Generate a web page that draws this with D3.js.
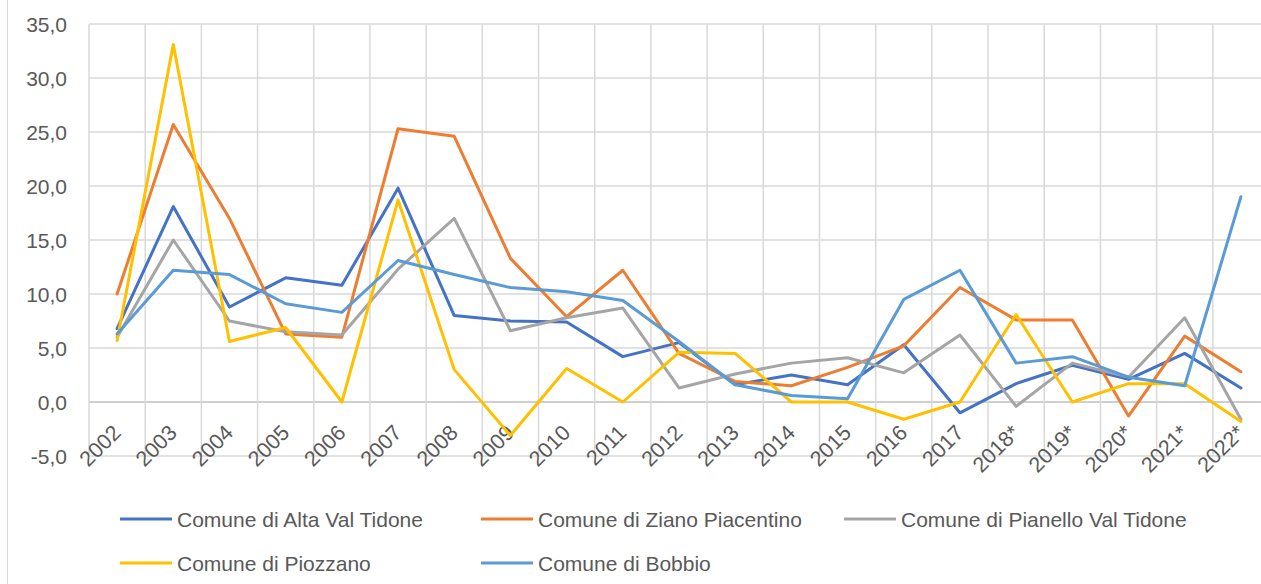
<!DOCTYPE html>
<html lang="en">
<head>
    <meta charset="UTF-8">
    <title>Comuni</title>
    <script src="https://d3js.org/d3.v7.min.js"></script>
    <style>
        body { margin: 0; background: #fff; }
        svg text { font-family: "Liberation Sans", Arial, sans-serif; fill: #595959; }
    </style>
</head>
<body>
    <svg id="chart"></svg>

    <script>
        // Categories (years)
        const years = ["2002", "2003", "2004", "2005", "2006", "2007", "2008", "2009", "2010", "2011",
            "2012", "2013", "2014", "2015", "2016", "2017", "2018*", "2019*", "2020*", "2021*", "2022*"];

        // Series names
        const names = ["Comune di Alta Val Tidone", "Comune di Ziano Piacentino", "Comune di Pianello Val Tidone",
            "Comune di Piozzano", "Comune di Bobbio"];

        // Values
        const altaValTidone = [6.8, 18.1, 8.8, 11.5, 10.8, 19.8, 8.0, 7.5, 7.4, 4.2, 5.5, 1.6, 2.5, 1.6, 5.3, -1.0, 1.7, 3.4, 2.1, 4.5, 1.3];
        const zianoPiacentino = [10.0, 25.7, 17.0, 6.3, 6.0, 25.3, 24.6, 13.3, 7.9, 12.2, 4.5, 1.9, 1.5, 3.2, 5.2, 10.6, 7.6, 7.6, -1.3, 6.1, 2.8];
        const pianelloValTidone = [6.0, 15.0, 7.5, 6.5, 6.2, 12.3, 17.0, 6.6, 7.8, 8.7, 1.3, 2.6, 3.6, 4.1, 2.7, 6.2, -0.4, 3.6, 2.3, 7.8, -1.6];
        const piozzano = [5.7, 33.1, 5.6, 6.9, 0.0, 18.7, 3.0, -3.1, 3.1, 0.0, 4.6, 4.5, 0.0, 0.0, -1.6, 0.0, 8.1, 0.0, 1.7, 1.7, -1.8];
        const bobbio = [6.3, 12.2, 11.8, 9.1, 8.3, 13.1, 11.8, 10.6, 10.2, 9.4, 5.6, 1.6, 0.6, 0.3, 9.5, 12.2, 3.6, 4.2, 2.3, 1.5, 19.0];

        const yTicks = [-5, 0, 5, 10, 15, 20, 25, 30, 35];
        const colors = ["#4472C4", "#ED7D31", "#A5A5A5", "#FFC000", "#5B9BD5"];

        const series = [altaValTidone, zianoPiacentino, pianelloValTidone, piozzano, bobbio]
            .map((v, i) => ({ name: names[i], values: v, color: colors[i] }));

        const width = 1261;
        const height = 584;

        const svg = d3.select("#chart")
            .attr("width", width)
            .attr("height", height);

        // chart area border on the left
        svg.append("line")
            .attr("x1", 7.5).attr("x2", 7.5)
            .attr("y1", 0).attr("y2", height)
            .attr("stroke", "#d9d9d9").attr("stroke-width", 1);

        const x = d3.scaleBand()
            .domain(years)
            .range([89, 1269]);

        const y = d3.scaleLinear()
            .domain([-5, 35])
            .range([456, 24]);

        // horizontal gridlines
        svg.append("g")
            .selectAll("line")
            .data(yTicks)
            .enter()
            .append("line")
            .attr("x1", 89).attr("x2", 1269)
            .attr("y1", d => y(d)).attr("y2", d => y(d))
            .attr("stroke", d => d === 0 ? "#bfbfbf" : "#d9d9d9")
            .attr("stroke-width", 1.5);

        // vertical gridlines at category edges
        svg.append("g")
            .selectAll("line")
            .data(years)
            .enter()
            .append("line")
            .attr("x1", d => x(d)).attr("x2", d => x(d))
            .attr("y1", y(35)).attr("y2", y(-5))
            .attr("stroke", "#d9d9d9")
            .attr("stroke-width", 1.5);

        // y tick labels (comma decimal, plain hyphen)
        svg.append("g")
            .selectAll("text")
            .data(yTicks)
            .enter()
            .append("text")
            .attr("x", 67)
            .attr("y", d => y(d))
            .attr("dy", "0.36em")
            .attr("text-anchor", "end")
            .style("font-size", "21px")
            .text(d => d3.format(".1f")(d).replace(".", ",").replace("\u2212", "-"));

        // x tick labels, rotated
        svg.append("g")
            .selectAll("text")
            .data(years)
            .enter()
            .append("text")
            .attr("transform", d => `translate(${x(d) + x.bandwidth() / 2 + 5},${y(0) + 32}) rotate(-45)`)
            .attr("text-anchor", "end")
            .style("font-size", "21.5px")
            .text(d => d);

        // lines
        const line = d3.line()
            .x((d, i) => x(years[i]) + x.bandwidth() / 2)
            .y(d => y(d));

        svg.append("g")
            .selectAll("path")
            .data(series)
            .enter()
            .append("path")
            .attr("d", d => line(d.values))
            .attr("fill", "none")
            .attr("stroke", d => d.color)
            .attr("stroke-width", 3)
            .attr("stroke-linejoin", "round")
            .attr("stroke-linecap", "round");

        // legend
        const legendPos = [[120, 519], [481, 519], [844, 519], [120, 563], [481, 563]];
        const legend = svg.append("g")
            .selectAll("g")
            .data(series)
            .enter()
            .append("g")
            .attr("transform", (d, i) => `translate(${legendPos[i][0]},${legendPos[i][1]})`);

        legend.append("line")
            .attr("x1", 0).attr("x2", 52)
            .attr("y1", 0).attr("y2", 0)
            .attr("stroke", d => d.color)
            .attr("stroke-width", 3);

        legend.append("text")
            .attr("x", 57)
            .attr("dy", "0.36em")
            .style("font-size", "21px")
            .text(d => d.name);
    </script>
</body>
</html>
